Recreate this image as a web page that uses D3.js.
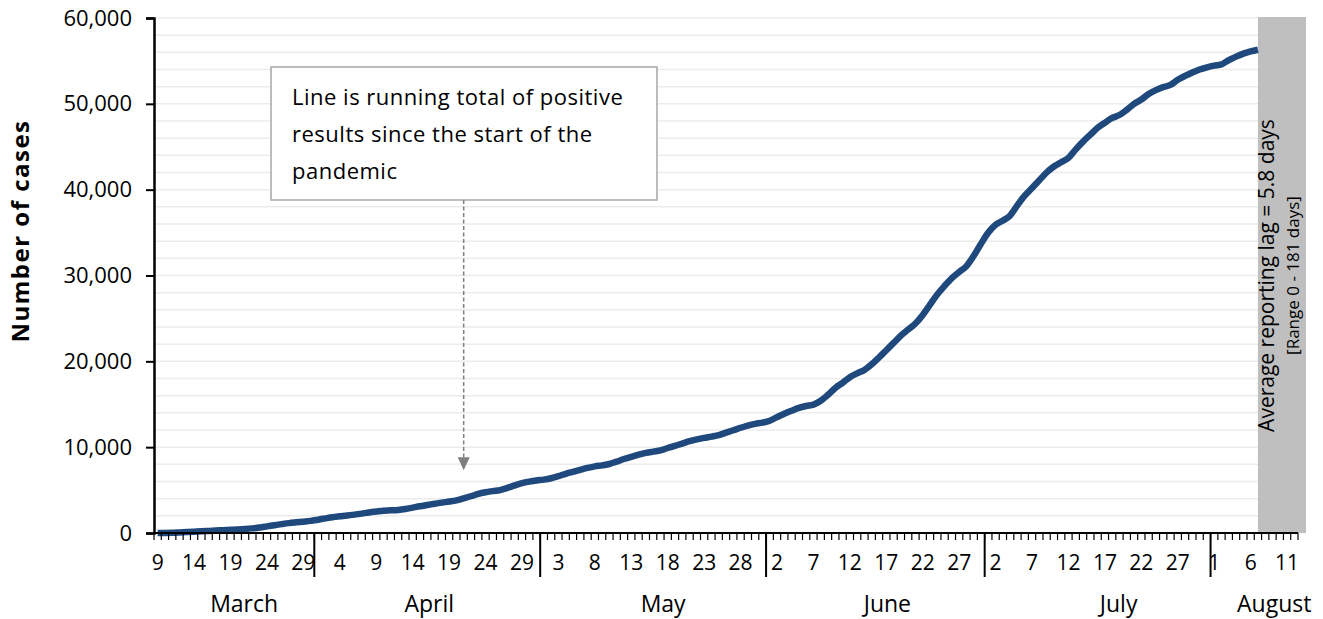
<!DOCTYPE html>
<html>
<head>
<meta charset="utf-8">
<script src="https://cdn.jsdelivr.net/npm/d3@7"></script>
<style>
	body { margin: 0; background: #fff; }
	svg { display: block; font-family: 'Open Sans', sans-serif; }
</style>
</head>
<body>
<div id="chart"></div>
<script>
// month groups along the category axis (reporting days per month)
let monthNames = ['March', 'April', 'May', 'June', 'July', 'August'];
let monthDays = [22, 31, 31, 30, 31, 12];
// day numbers shown under the axis, one every 5 categories
let dayLabels = [
	[9, 14, 19, 24, 29],
	[4, 9, 14, 19, 24, 29],
	[3, 8, 13, 18, 23, 28],
	[2, 7, 12, 17, 22, 27],
	[2, 7, 12, 17, 22, 27],
	[1, 6, 11]
];
// running total of positive results, one per reporting day
let cumulativeCases = [
	0, 10, 30, 70, 110, 150, 190, 240, 290, 330,
	380, 420, 470, 540, 640, 770, 900, 1030, 1150, 1240,
	1320, 1410, 1550, 1700, 1840, 1940, 2030, 2140, 2260, 2390,
	2500, 2600, 2640, 2690, 2800, 2960, 3120, 3260, 3400, 3540,
	3660, 3800, 4040, 4280, 4560, 4750, 4880, 5000, 5250, 5540,
	5800, 5980, 6120, 6220, 6380, 6620, 6900, 7130, 7360, 7580,
	7760, 7880, 8040, 8320, 8620, 8880, 9120, 9330, 9480, 9620,
	9900, 10160, 10420, 10690, 10900, 11080, 11230, 11400, 11700, 11970,
	12260, 12520, 12720, 12860, 13080, 13500, 13900, 14250, 14580, 14800,
	14960, 15400, 16100, 16900, 17500, 18150, 18600, 19000, 19650, 20450,
	21300, 22150, 23000, 23700, 24400, 25400, 26600, 27800, 28800, 29700,
	30400, 31100, 32300, 33700, 35000, 35900, 36400, 37000, 38200, 39300,
	40200, 41100, 42000, 42700, 43200, 43700, 44700, 45600, 46400, 47200,
	47800, 48350, 48700, 49300, 50000, 50500, 51150, 51600, 51950, 52200,
	52800, 53250, 53650, 54000, 54250, 54450, 54600, 55100, 55500, 55850,
	56100, 56300
];
let yMax = 60000;
let yMajor = 10000;
let yMinor = 2000;
let noteLines = ['Line is running total of positive', 'results since the start of the', 'pandemic'];
let lagLines = ['Average reporting lag = 5.8 days', '[Range 0 - 181 days]'];
let noteDay = 42; // category the dashed arrow points at

let width = 1323;
let height = 619;
let margin = {top: 18, left: 154, bottom: 86, right: 25};
let plotRight = width - margin.right;
let plotBottom = height - margin.bottom;
let monthLabelShift = [10, 2, 10, 12, 21, 20];

let nCats = d3.sum(monthDays);

let xScale = d3.scaleBand()
		.domain(d3.range(nCats))
		.range([margin.left, plotRight])
		.paddingInner(0)
		.paddingOuter(0);
let step = xScale.step();
let xMid = i => xScale(i) + step / 2;

let yScale = d3.scaleLinear()
		.domain([0, yMax])
		.range([plotBottom, margin.top]);

let svg = d3.select('#chart')
		.append('svg')
		.attr('width', width)
		.attr('height', height);

// ---------------------------------- gridlines ---------------------------------- //
svg.append('g')
		.selectAll('line')
		.data(d3.range(yMinor, yMax + 1, yMinor))
		.enter()
		.append('line')
		.attr('x1', margin.left)
		.attr('x2', xMid(cumulativeCases.length - 1))
		.attr('y1', d => yScale(d))
		.attr('y2', d => yScale(d))
		.style('stroke', '#ececec')
		.style('stroke-width', 1.5);

// ---------------------------------- reporting lag band ---------------------------------- //
let lagX = xMid(cumulativeCases.length - 1);
let lagW = plotRight + 8 - lagX;
svg.append('rect')
		.attr('x', lagX)
		.attr('y', yScale(yMax) - 1)
		.attr('width', lagW)
		.attr('height', yScale(0) - yScale(yMax) + 1)
		.attr('fill', '#bfbfbf');

let lagMidY = (yScale(0) + yScale(yMax)) / 2;
svg.append('text')
		.attr('transform', `translate(${lagX + 16},${lagMidY}) rotate(-90)`)
		.attr('text-anchor', 'middle')
		.style('font-size', '21px')
		.style('fill', '#000')
		.text(lagLines[0]);
svg.append('text')
		.attr('transform', `translate(${lagX + 41},${lagMidY}) rotate(-90)`)
		.attr('text-anchor', 'middle')
		.style('font-size', '17px')
		.style('fill', '#000')
		.text(lagLines[1]);

// ---------------------------------- line ---------------------------------- //
let lineGen = d3.line()
		.x((d, i) => xMid(i))
		.y(d => yScale(d))
		.curve(d3.curveMonotoneX);

svg.append('path')
		.datum(cumulativeCases)
		.attr('d', lineGen)
		.attr('fill', 'none')
		.style('stroke', '#1f497d')
		.style('stroke-width', 6.5)
		.style('stroke-linejoin', 'round')
		.style('stroke-linecap', 'butt');

// ---------------------------------- y axis ---------------------------------- //
let yAxis = d3.axisLeft(yScale)
		.tickValues(d3.range(0, yMax + 1, yMajor))
		.tickFormat(d3.format(','))
		.tickSize(8)
		.tickPadding(14);

let yG = svg.append('g')
		.attr('transform', `translate(${margin.left},0)`)
		.call(yAxis);
yG.select('.domain').style('stroke', '#000').style('stroke-width', 2.5);
yG.selectAll('.tick line').style('stroke', '#000').style('stroke-width', 2);
yG.selectAll('.tick text')
		.style('font-size', '22px')
		.style('fill', '#000')
		.style('font-family', "'Open Sans', sans-serif");

svg.append('text')
		.attr('transform', `translate(29,231) rotate(-90)`)
		.attr('text-anchor', 'middle')
		.style('font-size', '24px')
		.style('font-weight', 'bold')
		.style('letter-spacing', '1.5px')
		.text('Number of cases');

// ---------------------------------- x axis ---------------------------------- //
let xG = svg.append('g');
xG.append('line')
		.attr('x1', margin.left)
		.attr('x2', plotRight)
		.attr('y1', plotBottom)
		.attr('y2', plotBottom)
		.style('stroke', '#000')
		.style('stroke-width', 2);

// small ticks between every category
xG.selectAll('.day-tick')
		.data(d3.range(nCats + 1))
		.enter()
		.append('line')
		.attr('class', 'day-tick')
		.attr('x1', d => margin.left + d * step)
		.attr('x2', d => margin.left + d * step)
		.attr('y1', plotBottom)
		.attr('y2', plotBottom + 7)
		.style('stroke', '#000')
		.style('stroke-width', 1.2);

// month groups
let monthStart = d3.cumsum([0].concat(monthDays)).slice(0, monthDays.length);
let months = monthNames.map((m, k) => ({
	name: m,
	start: monthStart[k],
	days: monthDays[k],
	labels: dayLabels[k],
	shift: monthLabelShift[k]
}));

xG.selectAll('.month-tick')
		.data(months.slice(1))
		.enter()
		.append('line')
		.attr('class', 'month-tick')
		.attr('x1', d => xScale(d.start))
		.attr('x2', d => xScale(d.start))
		.attr('y1', plotBottom)
		.attr('y2', plotBottom + 44)
		.style('stroke', '#000')
		.style('stroke-width', 2);

let dayTicks = [];
let idx = 0;
months.forEach(m => {
	m.labels.forEach(l => {
		dayTicks.push({i: idx, label: l});
		idx += 5;
	});
});

xG.selectAll('.day-label')
		.data(dayTicks)
		.enter()
		.append('text')
		.attr('class', 'day-label')
		.attr('x', d => xMid(d.i))
		.attr('y', plotBottom + 37)
		.attr('text-anchor', 'middle')
		.style('font-size', '21px')
		.text(d => d.label);

xG.selectAll('.month-label')
		.data(months)
		.enter()
		.append('text')
		.attr('class', 'month-label')
		.attr('x', d => xScale(d.start) + d.days * step / 2 + d.shift)
		.attr('y', plotBottom + 79)
		.attr('text-anchor', 'middle')
		.style('font-size', '23px')
		.text(d => d.name);

// ---------------------------------- annotation ---------------------------------- //
let note = {x: 271, y: 67, w: 386, h: 133};
svg.append('rect')
		.attr('x', note.x)
		.attr('y', note.y)
		.attr('width', note.w)
		.attr('height', note.h)
		.attr('fill', '#fff')
		.style('stroke', '#a6a6a6')
		.style('stroke-width', 1.5);

svg.append('g')
		.selectAll('text')
		.data(noteLines)
		.enter()
		.append('text')
		.attr('x', note.x + 21)
		.attr('y', (d, i) => note.y + 38 + i * 37)
		.style('font-size', '22px')
		.style('letter-spacing', '0.5px')
		.text(d => d);

let arrowX = xMid(noteDay);
let arrowTip = yScale(cumulativeCases[noteDay]) - 28;
svg.append('line')
		.attr('x1', arrowX)
		.attr('x2', arrowX)
		.attr('y1', note.y + note.h)
		.attr('y2', arrowTip - 12)
		.style('stroke', '#7f7f7f')
		.style('stroke-width', 1.5)
		.style('stroke-dasharray', '4,2.5');
svg.append('path')
		.attr('d', `M${arrowX - 6},${arrowTip - 13}L${arrowX + 6},${arrowTip - 13}L${arrowX},${arrowTip}Z`)
		.attr('fill', '#7f7f7f');
</script>
</body>
</html>
